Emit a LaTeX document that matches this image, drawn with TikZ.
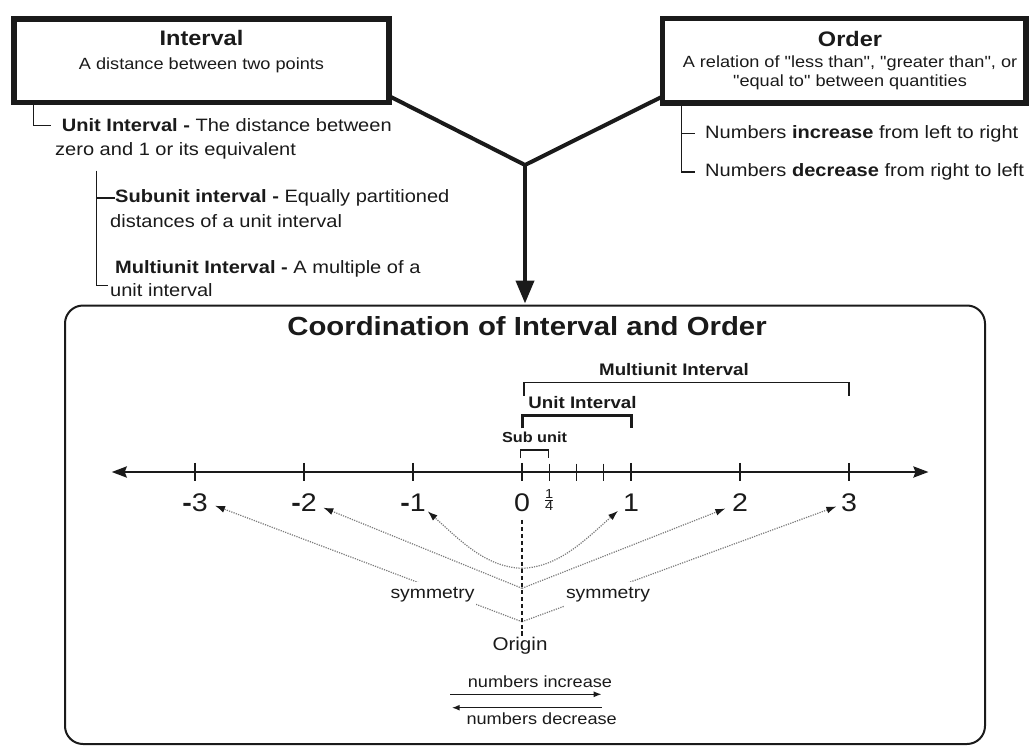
\documentclass[tikz,border=0pt]{standalone}
\usepackage{fontspec}
\setmainfont{Liberation Sans}[FakeStretch=1.12]
\newfontfamily\qf{Liberation Sans}[FakeStretch=1.12]
\usetikzlibrary{arrows.meta}
\definecolor{ink}{HTML}{1A1A1A}
\definecolor{dotc}{HTML}{7A7A7A}
\tikzset{
  hdrbox/.style={draw=ink, line width=5.5pt, inner sep=0pt, outer sep=0pt},
  ttl/.style={font=\fontsize{21}{23}\selectfont\bfseries, text=ink, anchor=base, inner sep=0pt},
  subt/.style={font=\qf\fontsize{16.2}{18}\selectfont, text=ink, anchor=base, inner sep=0pt},
  lst/.style={font=\fontsize{17.9}{20}\selectfont, text=ink, anchor=base west, inner sep=0pt},
  treeline/.style={draw=ink, line width=1.3pt},
  yline/.style={draw=ink, line width=4pt, line join=miter},
  mainbox/.style={draw=ink, line width=2pt, rounded corners=18pt, inner sep=0pt, outer sep=0pt},
  numlbl/.style={font=\fontsize{25.5}{27}\selectfont, text=ink, anchor=base, inner sep=0pt},
  brlbl/.style={font=\fontsize{16.7}{18}\selectfont\bfseries, text=ink, anchor=base, inner sep=0pt},
  symlbl/.style={font=\fontsize{17.3}{19}\selectfont, text=ink, anchor=base, fill=white, inner xsep=2pt, inner ysep=5pt},
  plain/.style={font=\fontsize{16.2}{18}\selectfont, text=ink, anchor=base, inner sep=0pt},
  dotarrow/.style={draw=dotc, line width=1.2pt, dash pattern=on 1.2pt off 1.2pt, -{Latex[length=10pt,width=7pt,color=ink]}},
  dirarrow/.style={draw=ink, line width=1.5pt, -{Latex[length=8pt,width=6pt]}},
  tickbig/.style={draw=ink, line width=2.8pt},
  ticksmall/.style={draw=ink, line width=1.2pt},
}
\begin{document}
\begin{tikzpicture}[x=1pt,y=-1pt]
\useasboundingbox (0,0) rectangle (1029,747);

% ---------- header boxes ----------
\node[hdrbox, minimum width=375pt, minimum height=83.5pt] (intbox) at (201.5,60.75) {};
\node[ttl] (intttl) at (201.5,45.7) {Interval};
\node[subt] (intsub) at (201.5,69.5) {A distance between two points};

\node[hdrbox, minimum width=363.5pt, minimum height=84.5pt] (ordbox) at (844.25,60.75) {};
\node[ttl] (ordttl) at (850,46.5) {Order};
\node[subt] (ordsub1) at (850,67) {A relation of "less than", "greater than", or};
\node[subt] (ordsub2) at (850,86) {"equal to" between quantities};

% ---------- interval list ----------
\node[lst] (ui1) at (61.7,131.7) {\textbf{Unit Interval -} The distance between};
\node[lst] (ui2) at (55,155.7) {zero and 1 or its equivalent};
\node[lst] (su1) at (115,202.7) {\textbf{Subunit interval -} Equally partitioned};
\node[lst] (su2) at (110,227) {distances of a unit interval};
\node[lst] (mu1) at (115,273) {\textbf{Multiunit Interval -} A multiple of a};
\node[lst] (mu2) at (110,296.7) {unit interval};

\draw[treeline] ([xshift=19.5pt]intbox.south west) |- ([xshift=-11pt]ui1.west);
\coordinate (sv1) at (96.7,170.7);
\coordinate (sv2) at (96.7,285.7);
\draw[treeline] (sv1) -- (sv2) -- ++(11.3,0);
\draw[treeline] (su1.west -| sv1) -- (su1.west);

% ---------- order list ----------
\node[lst] (ni) at (705,138) {Numbers \textbf{increase} from left to right};
\node[lst] (nd) at (705,176.7) {Numbers \textbf{decrease} from right to left};
\coordinate (rv) at ([xshift=19.2pt]ordbox.south west);
\draw[treeline] (rv) |- ([xshift=-10pt]nd.west);
\draw[treeline] (ni.west -| rv) -- ([xshift=-10pt]ni.west);

% ---------- main box ----------
\node[mainbox, minimum width=920pt, minimum height=438.5pt] (main) at (525,524.75) {};
\node[font=\fontsize{26.2}{28}\selectfont\bfseries, text=ink, anchor=base, inner sep=0pt] (maintitle) at (527,335) {Coordination of Interval and Order};

% ---------- Y connector ----------
\coordinate (J) at (525,165);
\draw[yline] ([yshift=6.5pt]intbox.south east) -- (J) -- ([yshift=6.5pt]ordbox.south west);
\draw[yline, -{Triangle[length=23pt,width=18pt]}] (J) -- ([yshift=2pt]main.north -| J);

% ---------- number line ----------
\foreach \i in {-3,...,3} \coordinate (t\i) at ({522+109*\i},472);
\coordinate (nlL) at (111.7,472);
\coordinate (nlR) at (928.5,472);
\draw[line width=2.5pt, draw=ink, {Stealth[length=15pt,width=11pt,inset=2pt]}-{Stealth[length=15pt,width=11pt,inset=2pt]}] (nlL) -- (nlR);
\foreach \i in {-3,...,3} \draw[tickbig] ([yshift=9.2pt]t\i) -- ([yshift=-9.2pt]t\i);
\foreach \q in {0.25,0.5,0.75} \draw[ticksmall] ({522+109*\q},463.5) -- ({522+109*\q},480.5);

\node[numlbl] (l-3) at ({522-3*109},511.5) {\textbf{-}3};
\node[numlbl] (l-2) at ({522-2*109},511.5) {\textbf{-}2};
\node[numlbl] (l-1) at ({522-1*109},511.5) {\textbf{-}1};
\node[numlbl] (l0) at (522,511.5) {0};
\node[numlbl] (l1) at ({522+1*109},511.5) {1};
\node[numlbl] (l2) at ({522+2*109},511.5) {2};
\node[numlbl] (l3) at ({522+3*109},511.5) {3};
\node[font=\fontsize{13}{13}\selectfont, text=ink, inner sep=0pt] (lq) at (549.25,500) {$\frac{\mbox{1}}{\mbox{4}}$};

% ---------- brackets ----------
\draw[ink, line width=1.3pt] (520.7,458.3) |- (548.3,450) -- (548.3,458.3);
\draw[ink, line width=3pt] (522,428.3) |- (631,415) -- (631,428.3);
\draw[ink, line width=1.6pt] (524,395.7) |- (849,382.3) -- (849,395.7);
\node[brlbl] (mulbl) at (674,375) {Multiunit Interval};
\node[brlbl] (unlbl) at (582.5,408) {Unit Interval};
\node[brlbl, font=\fontsize{14.5}{16}\selectfont\bfseries] (sulbl) at (534.5,442.7) {Sub unit};

% ---------- symmetry arrows ----------
\coordinate (A1) at (522,568.3);
\coordinate (A2) at (522,588.3);
\coordinate (A3) at (522,621.7);
\coordinate (tipm3) at (215,505.7);
\coordinate (tipm2) at (323.3,507.7);
\coordinate (tipm1) at (427.7,511.3);
\coordinate (tipp1) at (618,510.8);
\coordinate (tipp2) at (725.4,508.5);
\coordinate (tipp3) at (836.4,506.5);
\draw[dotarrow] (A1) .. controls (485,567) and (460,540) .. (tipm1);
\draw[dotarrow] (A1) .. controls (559,567) and (585,540) .. (tipp1);
\draw[dotarrow] (A2) -- (tipm2);
\draw[dotarrow] (A2) -- (tipp2);
\draw[dotarrow] (A3) -- (tipm3);
\draw[dotarrow] (A3) -- (tipp3);
\node[symlbl] (symL) at (432.5,598) {symmetry};
\node[symlbl] (symR) at (608,598) {symmetry};

\node[font=\fontsize{18.4}{20}\selectfont, text=ink, anchor=base, inner sep=0pt] (origin) at (520,650.7) {Origin};
\draw[draw=ink, line width=1.2pt, dash pattern=on 4pt off 3pt] ([yshift=-8pt]l0.south) -- (origin.north -| l0.south) -- ++(0,-5.7);

% ---------- direction arrows ----------
\node[plain] (inc) at (540,687) {numbers increase};
\node[plain] (dec) at (541.7,724) {numbers decrease};
\coordinate (i1) at (450,694.3);
\coordinate (i2) at (601.7,694.3);
\coordinate (d1) at (601.7,707.7);
\coordinate (d2) at (451.7,707.7);
\draw[dirarrow] (i1) -- (i2);
\draw[dirarrow] (d1) -- (d2);
\end{tikzpicture}
\end{document}
